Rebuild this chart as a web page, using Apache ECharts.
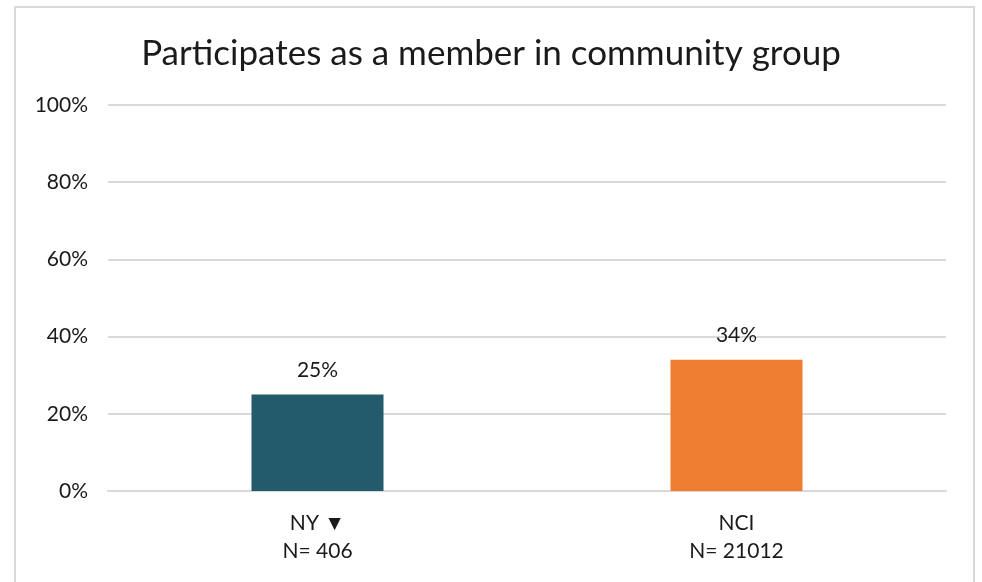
<!DOCTYPE html>
<html><head><meta charset="utf-8">
<script src="https://cdn.jsdelivr.net/npm/echarts@6/dist/echarts.min.js"></script>
<style>
html,body{margin:0;padding:0;background:#fff;}
#frame{position:absolute;left:14px;top:6px;width:961px;height:590px;border:2px solid #d9d9d9;box-sizing:border-box;}
#c{position:absolute;left:0;top:0;width:982px;height:582px;}
</style></head>
<body>
<div id="frame"></div>
<div id="c"></div>
<script>
const title = 'Participates as a member in community group';
const categories = ['NY ▼\nN= 406', 'NCI\nN= 21012'];
const values = [25, 34];
const colors = ['#235b6b', '#ed7d31'];
const yTicks = [0, 20, 40, 60, 80, 100];

const font = "Lato, sans-serif";
const chart = echarts.init(document.getElementById('c'), null, {renderer: 'canvas'});
chart.setOption({
  animation: false,
  title: {
    text: title, left: 'center', top: 31,
    textStyle: {fontFamily: font, fontSize: 35, fontWeight: 'normal', color: '#1a1a1a'}
  },
  grid: {left: 108, right: 36, top: 105, bottom: 91, containLabel: false},
  xAxis: {
    type: 'category', data: categories,
    axisLine: {show: true, lineStyle: {color: '#d9d9d9', width: 2}},
    axisTick: {show: false},
    axisLabel: {fontFamily: font, fontSize: 21, color: '#1a1a1a', margin: 18, lineHeight: 28}
  },
  yAxis: {
    type: 'value', min: yTicks[0], max: yTicks[yTicks.length - 1], interval: 20,
    axisLine: {show: false}, axisTick: {show: false},
    splitLine: {lineStyle: {color: '#d9d9d9', width: 2}},
    axisLabel: {fontFamily: font, fontSize: 21, color: '#1a1a1a', margin: 20, formatter: v => v + '%'}
  },
  series: [{
    type: 'bar', barWidth: 132,
    data: values.map((v, i) => ({value: v, itemStyle: {color: colors[i]}})),
    label: {show: true, position: 'top', distance: 14, fontFamily: font, fontSize: 21, color: '#1a1a1a', formatter: p => p.value + '%'}
  }]
});
</script>
</body></html>
